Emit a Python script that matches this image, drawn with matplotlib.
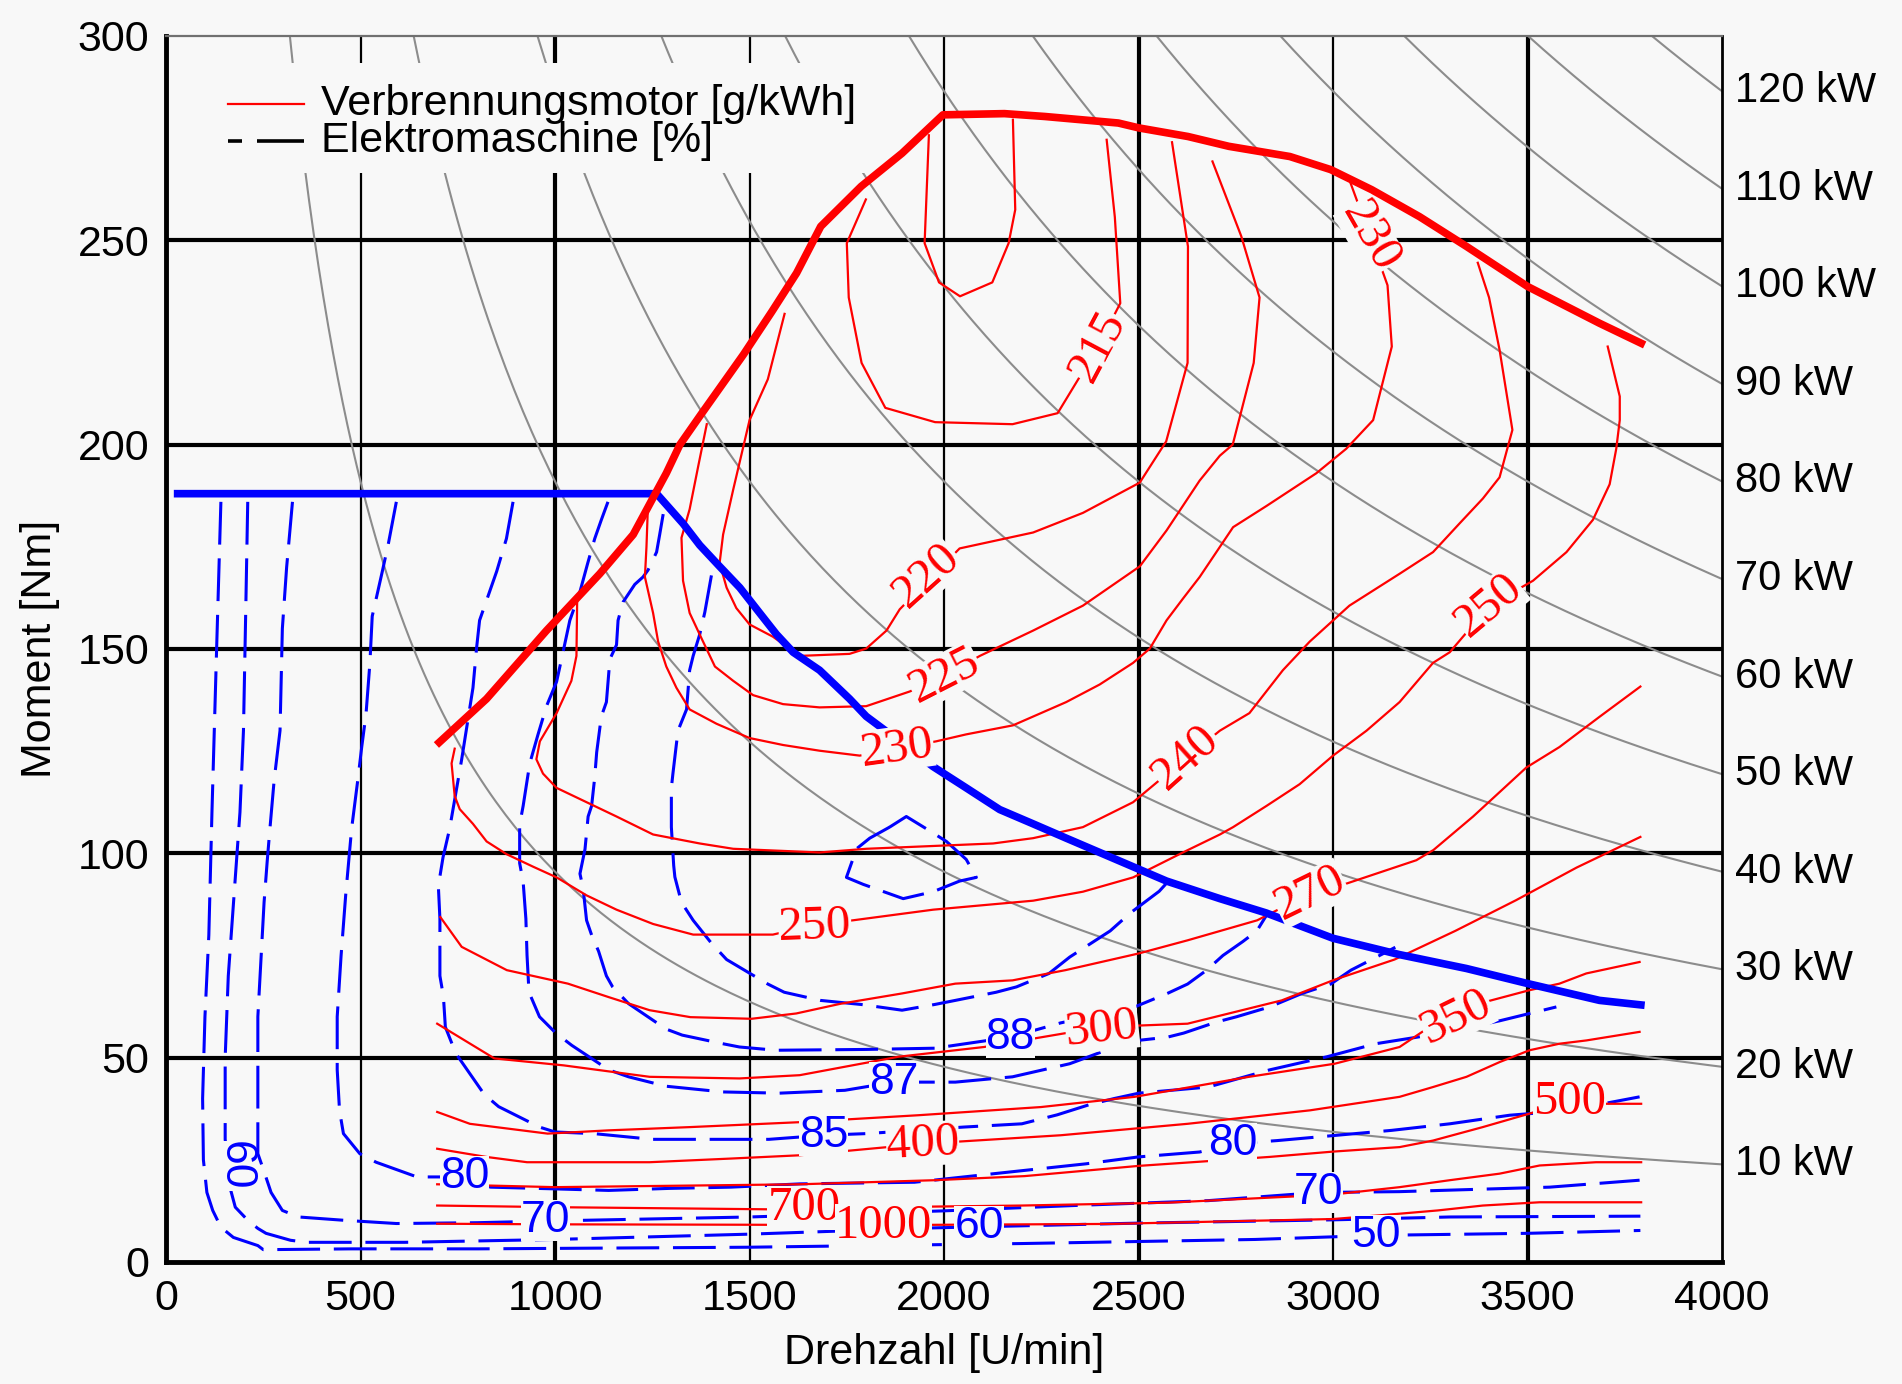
import matplotlib
matplotlib.use("Agg")
import matplotlib.pyplot as plt
from matplotlib.patches import Rectangle
import numpy as np

plt.rcParams['font.family'] = ['Liberation Sans', 'DejaVu Sans']

BG = '#f8f8f8'
RED = '#ff0000'
BLUE = '#0000ff'
GRAY = '#8c8c8c'

# ---------------- axes data ----------------
rpm_ticks = [0, 500, 1000, 1500, 2000, 2500, 3000, 3500, 4000]
torque_ticks = [0, 50, 100, 150, 200, 250, 300]
power_kw = [10, 20, 30, 40, 50, 60, 70, 80, 90, 100, 110, 120]

# ---------------- full load curves ----------------
ice_full_n = [695, 824, 978, 1115, 1201, 1235, 1261, 1286, 1321, 1376, 1484, 1557, 1621, 1683, 1787,
              1892, 1997, 2155, 2259, 2448, 2501, 2627, 2732, 2889, 2994, 3099, 3222, 3343, 3500, 3685, 3801]
ice_full_T = [126.5, 137.8, 154.5, 168.4, 178, 184, 188.6, 193, 200, 207.5, 222, 232.5, 242, 253.4, 263.2,
              271.3, 280.7, 281, 280.3, 278.7, 277.5, 275.4, 273, 270.5, 267.3, 262.4, 255.8, 248.5, 238.7, 229.7, 224.4]

em_full_n = [20, 1261, 1329, 1372, 1423, 1475, 1526, 1569, 1612, 1680, 1757, 1800, 1886, 1972, 2057,
             2143, 2229, 2314, 2400, 2486, 2572, 2709, 2828, 3000, 3171, 3343, 3501, 3685, 3801]
em_full_T = [188, 188, 180.7, 175.4, 170.2, 165, 158.8, 153.6, 149.2, 144.8, 137.8, 133.5, 127.4, 121.2, 116,
             110.7, 107.2, 103.7, 100.2, 96.7, 93.2, 88.9, 85.4, 79.2, 75.2, 71.8, 68.1, 64, 62.8]

# ---------------- BSFC contours (g/kWh) ----------------
bsfc_210_n = [1961, 1950, 1987, 2041, 2124, 2166, 2183, 2177]
bsfc_210_T = [275.7, 249.3, 239.7, 236.3, 239.7, 249.3, 257.5, 279.5]

bsfc_215_n = [1799, 1750, 1755, 1788, 1849, 1977, 2176, 2292, 2396, 2453, 2439, 2418]
bsfc_215_T = [260, 249.3, 236, 220, 209, 205.5, 205, 207.7, 224, 234.6, 255.7, 274.6]

bsfc_220_n = [1590, 1547, 1500, 1458, 1432, 1423, 1441, 1466, 1500, 1560, 1629, 1757, 1800, 1852, 1886,
              2040, 2229, 2357, 2503, 2571, 2626, 2627, 2586]
bsfc_220_T = [232, 216, 206, 189, 178, 171, 165, 160, 156, 153, 148.3, 148.8, 150.1, 154.5, 159.7,
              174.6, 178.5, 183.3, 190.7, 200.8, 220, 248.5, 274]

bsfc_225_n = [1390, 1368, 1346, 1325, 1329, 1346, 1376, 1411, 1458, 1509, 1586, 1680, 1800, 1912, 2002,
              2092, 2229, 2357, 2503, 2572, 2657, 2709, 2742, 2796, 2811, 2764, 2690]
bsfc_225_T = [205, 194.7, 184.2, 177.2, 166.7, 158.8, 152.7, 145.7, 142.2, 138.7, 136.5, 135.7, 136, 139.6, 143.5,
              148.3, 154.5, 160.6, 170.2, 179, 191.2, 197.3, 200, 220, 236, 251, 269.3]

bsfc_230_n = [1238, 1235, 1231, 1252, 1265, 1286, 1312, 1346, 1415, 1500, 1586, 1680, 1783, 1880, 1980,
              2057, 2177, 2314, 2400, 2486, 2529, 2572, 2614, 2657, 2743, 2829, 2957, 3034, 3103, 3151,
              3140, 3095, 3045]
bsfc_230_T = [183, 175, 167.6, 158.8, 151.8, 145.7, 140.5, 135.2, 131.7, 128.2, 126.5, 125.1, 123.9, 125.6, 127.4,
              129.1, 131.3, 137, 141.3, 146.6, 150.1, 157, 162.3, 167.6, 179.8, 185, 193, 199, 206, 224,
              239, 251, 264]

bsfc_240_n = [1057, 1055, 1042, 1004, 961, 952, 969, 1004, 1081, 1158, 1252, 1372, 1458, 1680, 1800,
              2126, 2229, 2357, 2486, 2623, 2709, 2785, 2871, 2940, 3042, 3171, 3257, 3325, 3385, 3428,
              3461, 3428, 3401, 3372]
bsfc_240_T = [163, 148.3, 142.2, 134.3, 127.4, 123, 119.5, 116, 112.5, 109, 104.6, 102.4, 101.1, 100.2, 101.1,
              102.4, 103.7, 106.4, 112.5, 123.4, 130, 134.3, 144.8, 151.8, 160.6, 168.4, 173.7, 180.7, 186.8, 192,
              203.6, 223.2, 236, 244.5]

bsfc_250_n = [742, 734, 742, 755, 789, 824, 875, 944, 1004, 1081, 1158, 1252, 1355, 1560, 1668,
              1766, 1972, 2229, 2357, 2486, 2614, 2709, 2743, 2829, 2914, 3000, 3086, 3171, 3257, 3300,
              3402, 3514, 3600, 3668, 3711, 3728, 3737, 3737, 3706]
bsfc_250_T = [125.6, 122, 114, 110.8, 107.2, 102.9, 99.8, 96.7, 94.1, 89.7, 86.2, 82.7, 80.1, 80.1, 82.5,
              83.6, 86.2, 88.4, 90.6, 94.1, 100.2, 104.6, 106.4, 111.6, 116.9, 123.9, 130, 137, 146.6, 149.2,
              160.6, 166.7, 173.7, 181.6, 190.3, 199, 206, 211.8, 224]

bsfc_270_n = [705, 760, 876, 1033, 1138, 1243, 1348, 1505, 1620, 1735, 1892, 2029, 2176, 2312, 2501,
              2626, 2805, 2941, 3035, 3214, 3258, 3360, 3497, 3582, 3685, 3790]
bsfc_270_T = [84.4, 77.1, 71.4, 68.1, 64.8, 61.6, 59.9, 59.5, 60.8, 63.2, 65.7, 68.1, 68.9, 71.4, 75.5,
              78.7, 83.6, 90.2, 92.6, 98.3, 100.8, 109, 121, 126, 133.4, 140.8]

bsfc_300_n = [697, 844, 1022, 1243, 1474, 1629, 1882, 2103, 2406, 2626, 2868, 3002, 3158, 3314, 3470, 3626, 3790]
bsfc_300_T = [58.3, 49.8, 48.1, 45.3, 44.9, 45.7, 50.2, 52.6, 57.5, 58.3, 64, 69, 74, 81, 88.5, 96.5, 104]

bsfc_350_n = [697, 781, 981, 1138, 1348, 1629, 1934, 2249, 2490, 2784, 3004, 3171, 3248, 3343, 3505, 3582, 3651, 3788]
bsfc_350_T = [36.7, 33.8, 31.4, 32.2, 33, 34.2, 35.9, 37.9, 40.4, 45.3, 48.5, 52.6, 57.5, 62.4, 66.5, 68.1, 70.6, 73.4]

bsfc_400_n = [697, 823, 928, 1243, 1453, 1629, 1945, 2300, 2626, 2941, 3171, 3257, 3343, 3428, 3505, 3582, 3651, 3788]
bsfc_400_T = [27.7, 25.7, 24.4, 24.4, 25.3, 26.1, 28.9, 31, 33.8, 37.1, 40.4, 42.8, 45.3, 48.9, 51.8, 53.4, 54.2, 56.3]

bsfc_500_n = [697, 1000, 1629, 1976, 2207, 2500, 2837, 3000, 3171, 3257, 3385, 3505, 3608, 3701, 3792]
bsfc_500_T = [19, 18.3, 19, 20, 21, 23.5, 25.7, 27, 28.1, 29.7, 33, 36.3, 39.1, 38.7, 38.7]

bsfc_700_n = [697, 1000, 1629, 1755, 2200, 2574, 3000, 3171, 3300, 3428, 3531, 3676, 3792]
bsfc_700_T = [13.8, 13.4, 12.8, 13.3, 13.8, 14.5, 16.5, 18.3, 20, 21.6, 23.6, 24.4, 24.4]

bsfc_1000_n = [697, 1000, 1500, 1802, 2427, 3000, 3171, 3269, 3385, 3531, 3792]
bsfc_1000_T = [9.35, 9.2, 9.1, 9, 9.3, 10.5, 11.8, 12.6, 13.8, 14.6, 14.6]

bsfc_label_text = ['215', '220', '225', '230', '230', '240', '250', '250', '270', '300', '350', '400', '500', '700', '1000']
bsfc_label_n = [2396, 1955, 2002, 1880, 3095, 2623, 1668, 3402, 2941, 2406, 3317, 1945, 3608, 1640, 1845]
bsfc_label_T = [224, 168, 143.5, 125.6, 251, 123.4, 82, 160.6, 90.2, 57, 60, 28.9, 39.1, 13.2, 8.8]
bsfc_label_rot = [62, 42, 27, 8, -60, 42, 2, 40, 26, 6, 26, 3, 0, 0, 0]

# ---------------- electric machine efficiency contours (%) ----------------
eff_50_n = [141, 130, 118, 110, 100, 94, 96, 105, 120, 141, 173, 236, 250, 477, 802, 1500, 2200, 2800, 3111, 3500, 3790]
eff_50_T = [186, 150, 110, 80, 60, 40, 25, 17, 12.6, 8.5, 6, 4, 3, 3.2, 3.2, 3.6, 4.5, 5.5, 6.5, 7, 7.7]

eff_60_n = [210, 205, 199, 190, 175, 160, 152, 152, 165, 178, 210, 236, 257, 320, 362, 614, 1000, 1500, 1958, 2500, 3000, 3300, 3790]
eff_60_T = [186, 160, 130, 110, 90, 70, 50, 30, 18, 13.4, 10.2, 8.2, 7, 5.3, 4.8, 4.8, 5.5, 6.8, 8.3, 9.5, 10.3, 11, 11.2]

eff_70_n = [325, 310, 299, 293, 278, 267, 260, 252, 244, 236, 236, 251, 270, 299, 341, 456, 592, 800, 976,
            1500, 2000, 2333, 2679, 2963, 3171, 3557, 3788]
eff_70_T = [186, 170, 155, 130, 118, 106, 98, 88, 74, 60, 26.5, 22.4, 17, 12.6, 11, 10.2, 9.4, 9.6, 10,
            11, 12.5, 13.8, 15, 17, 17.2, 18.3, 20]

eff_80_n = [592, 572, 556, 530, 524, 514, 503, 493, 477, 462, 450, 440, 440, 446, 456, 498, 540, 645, 766,
            834, 991, 1138, 1295, 1452, 1629, 1924, 2207, 2364, 2500, 2657, 2742, 2857, 3151, 3300, 3454, 3600, 3788]
eff_80_T = [186, 176, 169, 158, 146.5, 134, 126, 118, 106, 90, 75, 60, 47, 37, 31.4, 26.5, 24.4, 20.8, 20.8,
            18.3, 17.9, 17.5, 18, 18.3, 19.1, 19.5, 22.4, 24, 25.7, 26.9, 28.9, 29.7, 32.2, 33.8, 35.9, 37, 40.4]

eff_85_n = [892, 875, 850, 828, 806, 798, 789, 760, 729, 712, 700, 704, 704, 713, 718, 745, 818, 855, 960,
            1000, 1100, 1250, 1550, 1690, 1800, 2050, 2200, 2291, 2374, 2438, 2501, 2679, 2837, 2984, 3110,
            3282, 3428, 3574]
eff_85_T = [186, 177, 169, 163, 157, 150, 140.5, 123, 106, 99, 92, 84, 70, 65, 57.5, 51, 41, 38, 33,
            31.8, 31.4, 30, 30, 31, 31.4, 33, 33.8, 36, 38.5, 40, 41.3, 42.8, 47, 50.2, 53.4,
            56, 59, 62.4]

eff_87_n = [1136, 1119, 1102, 1084, 1064, 1038, 1020, 1004, 978, 956, 935, 918, 909, 909, 918, 925, 928, 933,
            960, 1002, 1043, 1138, 1189, 1285, 1431, 1577, 1745, 1871, 2029, 2176, 2323, 2479, 2574, 2616,
            2700, 2752, 2837, 2920, 2994, 3046, 3130, 3160]
eff_87_T = [186, 181.6, 177, 171, 164, 157, 149, 142, 136, 129, 122, 111.6, 107, 97.6, 93, 84, 75, 66,
            60, 56, 53, 47, 45.3, 43, 41.6, 41.3, 42, 44, 44, 45.3, 48.5, 54, 55, 56,
            58.7, 60, 62.4, 65.7, 68, 71.4, 75.5, 77]

eff_88_n = [1278, 1269, 1261, 1239, 1226, 1205, 1175, 1162, 1158, 1141, 1132, 1119, 1107, 1102, 1094, 1085,
            1077, 1064, 1072, 1081, 1094, 1112, 1132, 1148, 1189, 1285, 1327, 1431, 1474, 1568, 1800, 1976,
            2170, 2300, 2490, 2574, 2626, 2675, 2717, 2768, 2804, 2830]
eff_88_T = [183, 178, 173.7, 169.3, 167.6, 165.8, 161.5, 157, 151, 147.5, 137, 133.5, 124.7, 118.6, 111.6, 109,
            101, 95, 91.5, 83.6, 80, 76, 70, 67.3, 63.2, 57, 55.5, 53.4, 52.6, 51.8, 52, 52.3,
            55, 58.5, 62.4, 65.7, 68, 71.4, 75, 78.4, 81, 85]

eff_89_n = [1402, 1385, 1372, 1355, 1346, 1338, 1316, 1303, 1299, 1299, 1305, 1308, 1325, 1355, 1402, 1441,
            1547, 1589, 1682, 1787, 1892, 1976, 2029, 2134, 2186, 2270, 2323, 2427, 2479, 2553, 2575]
eff_89_T = [168, 159, 153.6, 148.3, 144.8, 135.2, 130, 119.5, 116, 106.4, 97, 94.2, 88, 83.6, 78, 74,
            68, 66, 64, 63, 61.6, 63, 64, 66, 67.3, 70.6, 74.6, 81, 85.4, 90.7, 93]

eff_90_n = [1860, 1903, 1963, 2006, 2057, 2083, 2040, 1972, 1895, 1792, 1749, 1775, 1809, 1860]
eff_90_T = [106.4, 109, 105.5, 102.9, 98.5, 94.1, 93.2, 90.6, 88.9, 92.4, 94.1, 101.1, 103.7, 106.4]

eff_label_text = ['60', '80', '70', '85', '87', '88', '60', '80', '70', '50']
eff_label_n = [178, 767, 976, 1690, 1871, 2170, 2090, 2742, 2963, 3111]
eff_label_T = [23.5, 20.8, 10.2, 31, 44, 55, 8.6, 28.9, 17, 6.5]
eff_label_rot = [-90, 0, 0, 0, 0, 0, 0, 0, 0, 0]

# ---------------- figure ----------------
fig = plt.figure(figsize=(19.02, 13.84), dpi=100, facecolor=BG)
ax = fig.add_axes([0.0873, 0.0882, 0.8181, 0.8858])
ax.set_facecolor(BG)
ax.set_xlim(rpm_ticks[0], rpm_ticks[-1])
ax.set_ylim(torque_ticks[0], torque_ticks[-1])

# grid
thick_x = {1000, 2500, 3500}
for v in rpm_ticks[1:-1]:
    ax.axvline(v, color='black', lw=3.0 if v in thick_x else 1.6, zorder=1)
for v in torque_ticks[1:-1]:
    ax.axhline(v, color='black', lw=3.0, zorder=1)

# iso-power lines
for P in power_kw:
    n0 = 9549.3 * P / torque_ticks[-1]
    n = np.linspace(max(n0, 1.0), rpm_ticks[-1], 300)
    ax.plot(n, 9549.3 * P / n, color=GRAY, lw=1.5, zorder=2)
    ax.text(1.008, 9549.3 * P / rpm_ticks[-1], f'{P} kW', transform=ax.get_yaxis_transform(),
            ha='left', va='center', fontsize=30, clip_on=False)

# legend background
ax.add_patch(Rectangle((0.0, 0.888), 0.4545, 0.09, transform=ax.transAxes,
                       facecolor=BG, edgecolor='none', zorder=2.5))

# efficiency contours (blue dashed)
eff_sets = [(eff_50_n, eff_50_T), (eff_60_n, eff_60_T), (eff_70_n, eff_70_T), (eff_80_n, eff_80_T),
            (eff_85_n, eff_85_T), (eff_87_n, eff_87_T), (eff_88_n, eff_88_T), (eff_89_n, eff_89_T),
            (eff_90_n, eff_90_T)]
for n, T in eff_sets:
    ax.plot(n, T, color=BLUE, lw=2.2, dashes=(14, 4.5), zorder=3)

# BSFC contours (red)
bsfc_sets = [(bsfc_210_n, bsfc_210_T), (bsfc_215_n, bsfc_215_T), (bsfc_220_n, bsfc_220_T),
             (bsfc_225_n, bsfc_225_T), (bsfc_230_n, bsfc_230_T), (bsfc_240_n, bsfc_240_T),
             (bsfc_250_n, bsfc_250_T), (bsfc_270_n, bsfc_270_T), (bsfc_300_n, bsfc_300_T),
             (bsfc_350_n, bsfc_350_T), (bsfc_400_n, bsfc_400_T), (bsfc_500_n, bsfc_500_T),
             (bsfc_700_n, bsfc_700_T), (bsfc_1000_n, bsfc_1000_T)]
for n, T in bsfc_sets:
    ax.plot(n, T, color=RED, lw=1.6, zorder=4)

# full load lines
ax.plot(em_full_n, em_full_T, color=BLUE, lw=5.5, solid_capstyle='butt', zorder=5)
ax.plot(ice_full_n, ice_full_T, color=RED, lw=5.5, solid_capstyle='butt', zorder=5.5)

# contour labels
for s, n, T, r in zip(eff_label_text, eff_label_n, eff_label_T, eff_label_rot):
    ax.text(n, T, s, color=BLUE, fontsize=32, rotation=r, rotation_mode='anchor',
            ha='center', va='center', zorder=6,
            bbox=dict(boxstyle='square,pad=0.0', fc=BG, ec='none'))
for s, n, T, r in zip(bsfc_label_text, bsfc_label_n, bsfc_label_T, bsfc_label_rot):
    ax.text(n, T, s, color=RED, fontsize=35, family=['Liberation Serif', 'DejaVu Serif'],
            rotation=r, rotation_mode='anchor', ha='center', va='center', zorder=6.5,
            bbox=dict(boxstyle='square,pad=0.0', fc=BG, ec='none'))

# legend
ax.plot([0.0398, 0.0885], [0.9447, 0.9447], color=RED, lw=1.6, transform=ax.transAxes, zorder=7)
ax.plot([0.0398, 0.049], [0.9147, 0.9147], color='black', lw=2.6, transform=ax.transAxes, zorder=7,
        solid_capstyle='butt')
ax.plot([0.0585, 0.0885], [0.9147, 0.9147], color='black', lw=2.6, transform=ax.transAxes, zorder=7,
        solid_capstyle='butt')
ax.text(0.0998, 0.9447, 'Verbrennungsmotor [g/kWh]', transform=ax.transAxes, fontsize=31,
        ha='left', va='center', zorder=7)
ax.text(0.0998, 0.9147, 'Elektromaschine [%]', transform=ax.transAxes, fontsize=31,
        ha='left', va='center', zorder=7)

# axes styling
ax.set_xticks(rpm_ticks)
ax.set_yticks(torque_ticks)
ax.tick_params(length=0, labelsize=31)
ax.tick_params(axis='x', pad=12)
ax.tick_params(axis='y', pad=12)
for side, lw, col in [('left', 3.5, 'black'), ('bottom', 3.5, 'black'), ('right', 2.0, 'black'), ('top', 1.6, '#707070')]:
    ax.spines[side].set_linewidth(lw)
    ax.spines[side].set_color(col)
    ax.spines[side].set_zorder(8)

ax.set_xlabel('Drehzahl [U/min]', fontsize=31)
ax.set_ylabel('Moment [Nm]', fontsize=31)
ax.xaxis.set_label_coords(0.5, -0.058)
ax.yaxis.set_label_coords(-0.068, 0.5)

fig.savefig('out.png', dpi=100, facecolor=BG)
